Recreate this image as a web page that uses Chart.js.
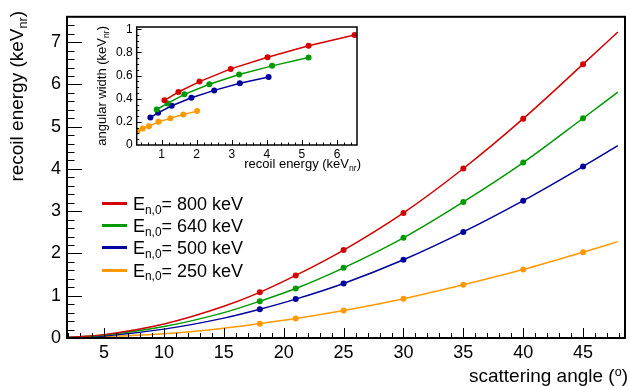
<!DOCTYPE html>
<html>
<head>
<meta charset="utf-8">
<script src="https://cdn.jsdelivr.net/npm/chart.js@4.4.1/dist/chart.umd.min.js"></script>
<style>
  html, body { margin: 0; padding: 0; background: #fff; }
  #wrap { position: relative; width: 630px; height: 386px; overflow: hidden;
          font-family: 'Liberation Sans', Arial, sans-serif; color: #000; }
  canvas { position: absolute; }
  .lbl { position: absolute; white-space: nowrap; }
  .sub { font-size: 0.66em; position: relative; top: 0.32em; }
  .sup { font-size: 0.66em; position: relative; top: -0.45em; }
  .rot { transform-origin: 0 0; transform: rotate(-90deg); text-align: right; }
</style>
</head>
<body>
<div id="wrap">
  <canvas id="mainChart" width="630" height="386" style="left:0;top:0"></canvas>
  <canvas id="insetChart" width="280" height="170" style="left:90px;top:10px"></canvas>
</div>
<script>
// main plot: recoil energy vs scattering angle
const angles = [18, 21, 25, 30, 35, 40, 45];
const recoil800 = [1.08, 1.48, 2.08, 2.96, 4.01, 5.19, 6.48];
const recoil640 = [0.87, 1.17, 1.66, 2.37, 3.22, 4.15, 5.20];
const recoil500 = [0.68, 0.92, 1.29, 1.85, 2.51, 3.25, 4.06];
const recoil250 = [0.34, 0.46, 0.65, 0.93, 1.26, 1.62, 2.03];

// the smooth curves
const curveAngles = [1.9, 5, 10, 15, 18, 21, 25, 30, 35, 40, 45, 47.9];
const curve800 = [0.01, 0.08, 0.33, 0.75, 1.08, 1.48, 2.08, 2.96, 4.01, 5.19, 6.48, 7.24];
const curve640 = [0.01, 0.07, 0.27, 0.60, 0.87, 1.17, 1.66, 2.37, 3.22, 4.15, 5.20, 5.82];
const curve500 = [0.01, 0.05, 0.21, 0.47, 0.68, 0.92, 1.29, 1.85, 2.51, 3.25, 4.06, 4.55];
const curve250 = [0.00, 0.03, 0.10, 0.23, 0.34, 0.46, 0.65, 0.93, 1.26, 1.62, 2.03, 2.28];

// inset: angular width vs recoil energy
const insetE800 = [1.08, 1.48, 2.08, 2.97, 4.02, 5.19, 6.50];
const insetW800 = [0.386, 0.458, 0.548, 0.658, 0.759, 0.858, 0.951];
const insetE640 = [0.86, 1.17, 1.65, 2.36, 3.21, 4.15, 5.19];
const insetW640 = [0.307, 0.359, 0.438, 0.525, 0.609, 0.684, 0.757];
const insetE500 = [0.68, 0.90, 1.29, 1.85, 2.50, 3.23, 4.05];
const insetW500 = [0.238, 0.278, 0.339, 0.409, 0.472, 0.533, 0.588];
const insetE250 = [0.31, 0.46, 0.64, 0.91, 1.25, 1.62, 2.01];
const insetW250 = [0.116, 0.142, 0.162, 0.200, 0.232, 0.264, 0.293];

const energies = ['800', '640', '500', '250'];
const colors = ['#d40000', '#009a00', '#00009c', '#ff9900'];

const pts = (xs, ys) => xs.map((x, i) => ({ x: x, y: ys[i] }));
const isMult = (v, step) => Math.abs(v / step - Math.round(v / step)) < 1e-6;

Chart.defaults.font.family = "'Liberation Sans', Arial, sans-serif";
Chart.defaults.color = '#000';

// ROOT style ticks pointing into the frame + frame box
const innerTicks = {
  id: 'innerTicks',
  afterDraw(chart, args, o) {
    const { ctx, chartArea: a, scales } = chart;
    ctx.save();
    ctx.strokeStyle = '#000';
    ctx.lineWidth = o.tickWidth;
    scales.x.ticks.forEach(t => {
      if (!isMult(t.value, o.xMinor)) return;
      const px = Math.round(scales.x.getPixelForValue(t.value)) + 0.5;
      if (px <= a.left + 1 || px >= a.right - 1) return;
      const len = isMult(t.value, o.xMajor) ? o.xLen[0] : o.xLen[1];
      ctx.beginPath();
      ctx.moveTo(px, a.bottom);
      ctx.lineTo(px, a.bottom - len);
      ctx.stroke();
    });
    scales.y.ticks.forEach(t => {
      if (!isMult(t.value, o.yMinor)) return;
      const py = Math.round(scales.y.getPixelForValue(t.value)) + 0.5;
      if (py <= a.top + 1 || py >= a.bottom - 1) return;
      const len = isMult(t.value, o.yMajor) ? o.yLen[0] : o.yLen[1];
      ctx.beginPath();
      ctx.moveTo(a.left, py);
      ctx.lineTo(a.left + len, py);
      ctx.stroke();
    });
    ctx.lineWidth = o.frameWidth;
    ctx.strokeRect(a.left, a.top, a.right - a.left, a.bottom - a.top);
    ctx.restore();
  }
};

const mainSets = [];
[curve800, curve640, curve500, curve250].forEach((c, i) => {
  mainSets.push({
    data: pts(curveAngles, c), showLine: true, borderColor: colors[i],
    borderWidth: 1.5, pointRadius: 0, cubicInterpolationMode: 'monotone'
  });
});
[recoil800, recoil640, recoil500, recoil250].forEach((r, i) => {
  mainSets.push({
    data: pts(angles, r), showLine: false, pointRadius: 3,
    pointBackgroundColor: colors[i], pointBorderWidth: 0
  });
});

new Chart(document.getElementById('mainChart'), {
  type: 'scatter',
  data: { datasets: mainSets },
  plugins: [innerTicks],
  options: {
    responsive: false,
    animation: false,
    events: [],
    layout: { padding: { top: 11, right: 5, left: 0, bottom: 0 } },
    plugins: {
      legend: { display: false },
      tooltip: { enabled: false },
      innerTicks: { tickWidth: 1, frameWidth: 2, xMinor: 1, xMajor: 5, xLen: [10, 5],
                    yMinor: 0.2, yMajor: 1, yLen: [15, 7.5] }
    },
    scales: {
      x: {
        type: 'linear', min: 1.9, max: 48.5,
        grid: { display: false, drawTicks: false }, border: { display: false },
        afterFit: s => { s.height = 48; },
        ticks: {
          stepSize: 1, autoSkip: false, includeBounds: false, maxRotation: 0, padding: 4,
          font: { size: 18 },
          callback: v => (isMult(v, 5) && v > 0) ? String(Math.round(v)) : ''
        }
      },
      y: {
        min: 0, max: 7.6,
        grid: { display: false, drawTicks: false }, border: { display: false },
        afterFit: s => { s.width = 67; },
        ticks: {
          stepSize: 0.2, autoSkip: false, includeBounds: false, padding: 6,
          font: { size: 18 },
          callback: v => isMult(v, 1) ? String(Math.round(v)) : ''
        }
      }
    }
  }
});

const insetSets = [
  [insetE800, insetW800], [insetE640, insetW640], [insetE500, insetW500], [insetE250, insetW250]
].map((p, i) => ({
  data: pts(p[0], p[1]), showLine: true, borderColor: colors[i], borderWidth: 1.5,
  pointRadius: 3, pointBackgroundColor: colors[i], pointBorderWidth: 0
}));

new Chart(document.getElementById('insetChart'), {
  type: 'scatter',
  data: { datasets: insetSets },
  plugins: [innerTicks],
  options: {
    responsive: false,
    animation: false,
    events: [],
    layout: { padding: { top: 17, right: 13, left: 0, bottom: 0 } },
    plugins: {
      legend: { display: false },
      tooltip: { enabled: false },
      innerTicks: { tickWidth: 1, frameWidth: 1.5, xMinor: 0.2, xMajor: 1, xLen: [5, 2.5],
                    yMinor: 0.05, yMajor: 0.2, yLen: [5, 2.5] }
    },
    scales: {
      x: {
        type: 'linear', min: 0.29, max: 6.57,
        grid: { display: false, drawTicks: false }, border: { display: false },
        afterFit: s => { s.height = 35; },
        ticks: {
          stepSize: 0.2, autoSkip: false, includeBounds: false, maxRotation: 0, padding: 2,
          font: { size: 12 },
          callback: v => (isMult(v, 1) && v > 0.5) ? String(Math.round(v)) : ''
        }
      },
      y: {
        min: 0, max: 1.02,
        grid: { display: false, drawTicks: false }, border: { display: false },
        afterFit: s => { s.width = 46.7; },
        ticks: {
          stepSize: 0.05, autoSkip: false, includeBounds: false, padding: 4,
          font: { size: 12 },
          callback: v => isMult(v, 0.2) ? String(Math.round(v * 10) / 10) : ''
        }
      }
    }
  }
});

// axis titles and legend (ROOT style text with sub/superscripts)
const wrap = document.getElementById('wrap');
function addLabel(html, css) {
  const d = document.createElement('div');
  d.className = 'lbl';
  d.innerHTML = html;
  Object.assign(d.style, css);
  wrap.appendChild(d);
  return d;
}

addLabel('recoil energy (keV<span class="sub">nr</span>)',
  { left: '6.6px', top: '211px', width: '200px', fontSize: '19px', lineHeight: '19px' })
  .classList.add('rot');
addLabel('scattering angle (<span class="sup">o</span>)',
  { left: '0px', top: '366px', width: '628px', textAlign: 'right', fontSize: '19px', lineHeight: '19px' });
addLabel('angular width (keV<span class="sub">nr</span>)',
  { left: '95px', top: '176px', width: '150px', fontSize: '13px', lineHeight: '13px' })
  .classList.add('rot');
addLabel('recoil energy (keV<span class="sub">nr</span>)',
  { left: '0px', top: '157px', width: '361px', textAlign: 'right', fontSize: '13px', lineHeight: '13px' });

energies.forEach((e, i) => {
  const cy = 203.3 + i * 22.3;
  const line = document.createElement('div');
  Object.assign(line.style, { position: 'absolute', left: '101.7px', top: (cy - 1.5) + 'px',
    width: '25px', height: '3px', background: colors[i] });
  wrap.appendChild(line);
  addLabel('E<span class="sub">n,0</span>= ' + e + ' keV',
    { left: '133px', top: (cy - 8.5) + 'px', fontSize: '18px', lineHeight: '18px' });
});
</script>
</body>
</html>
